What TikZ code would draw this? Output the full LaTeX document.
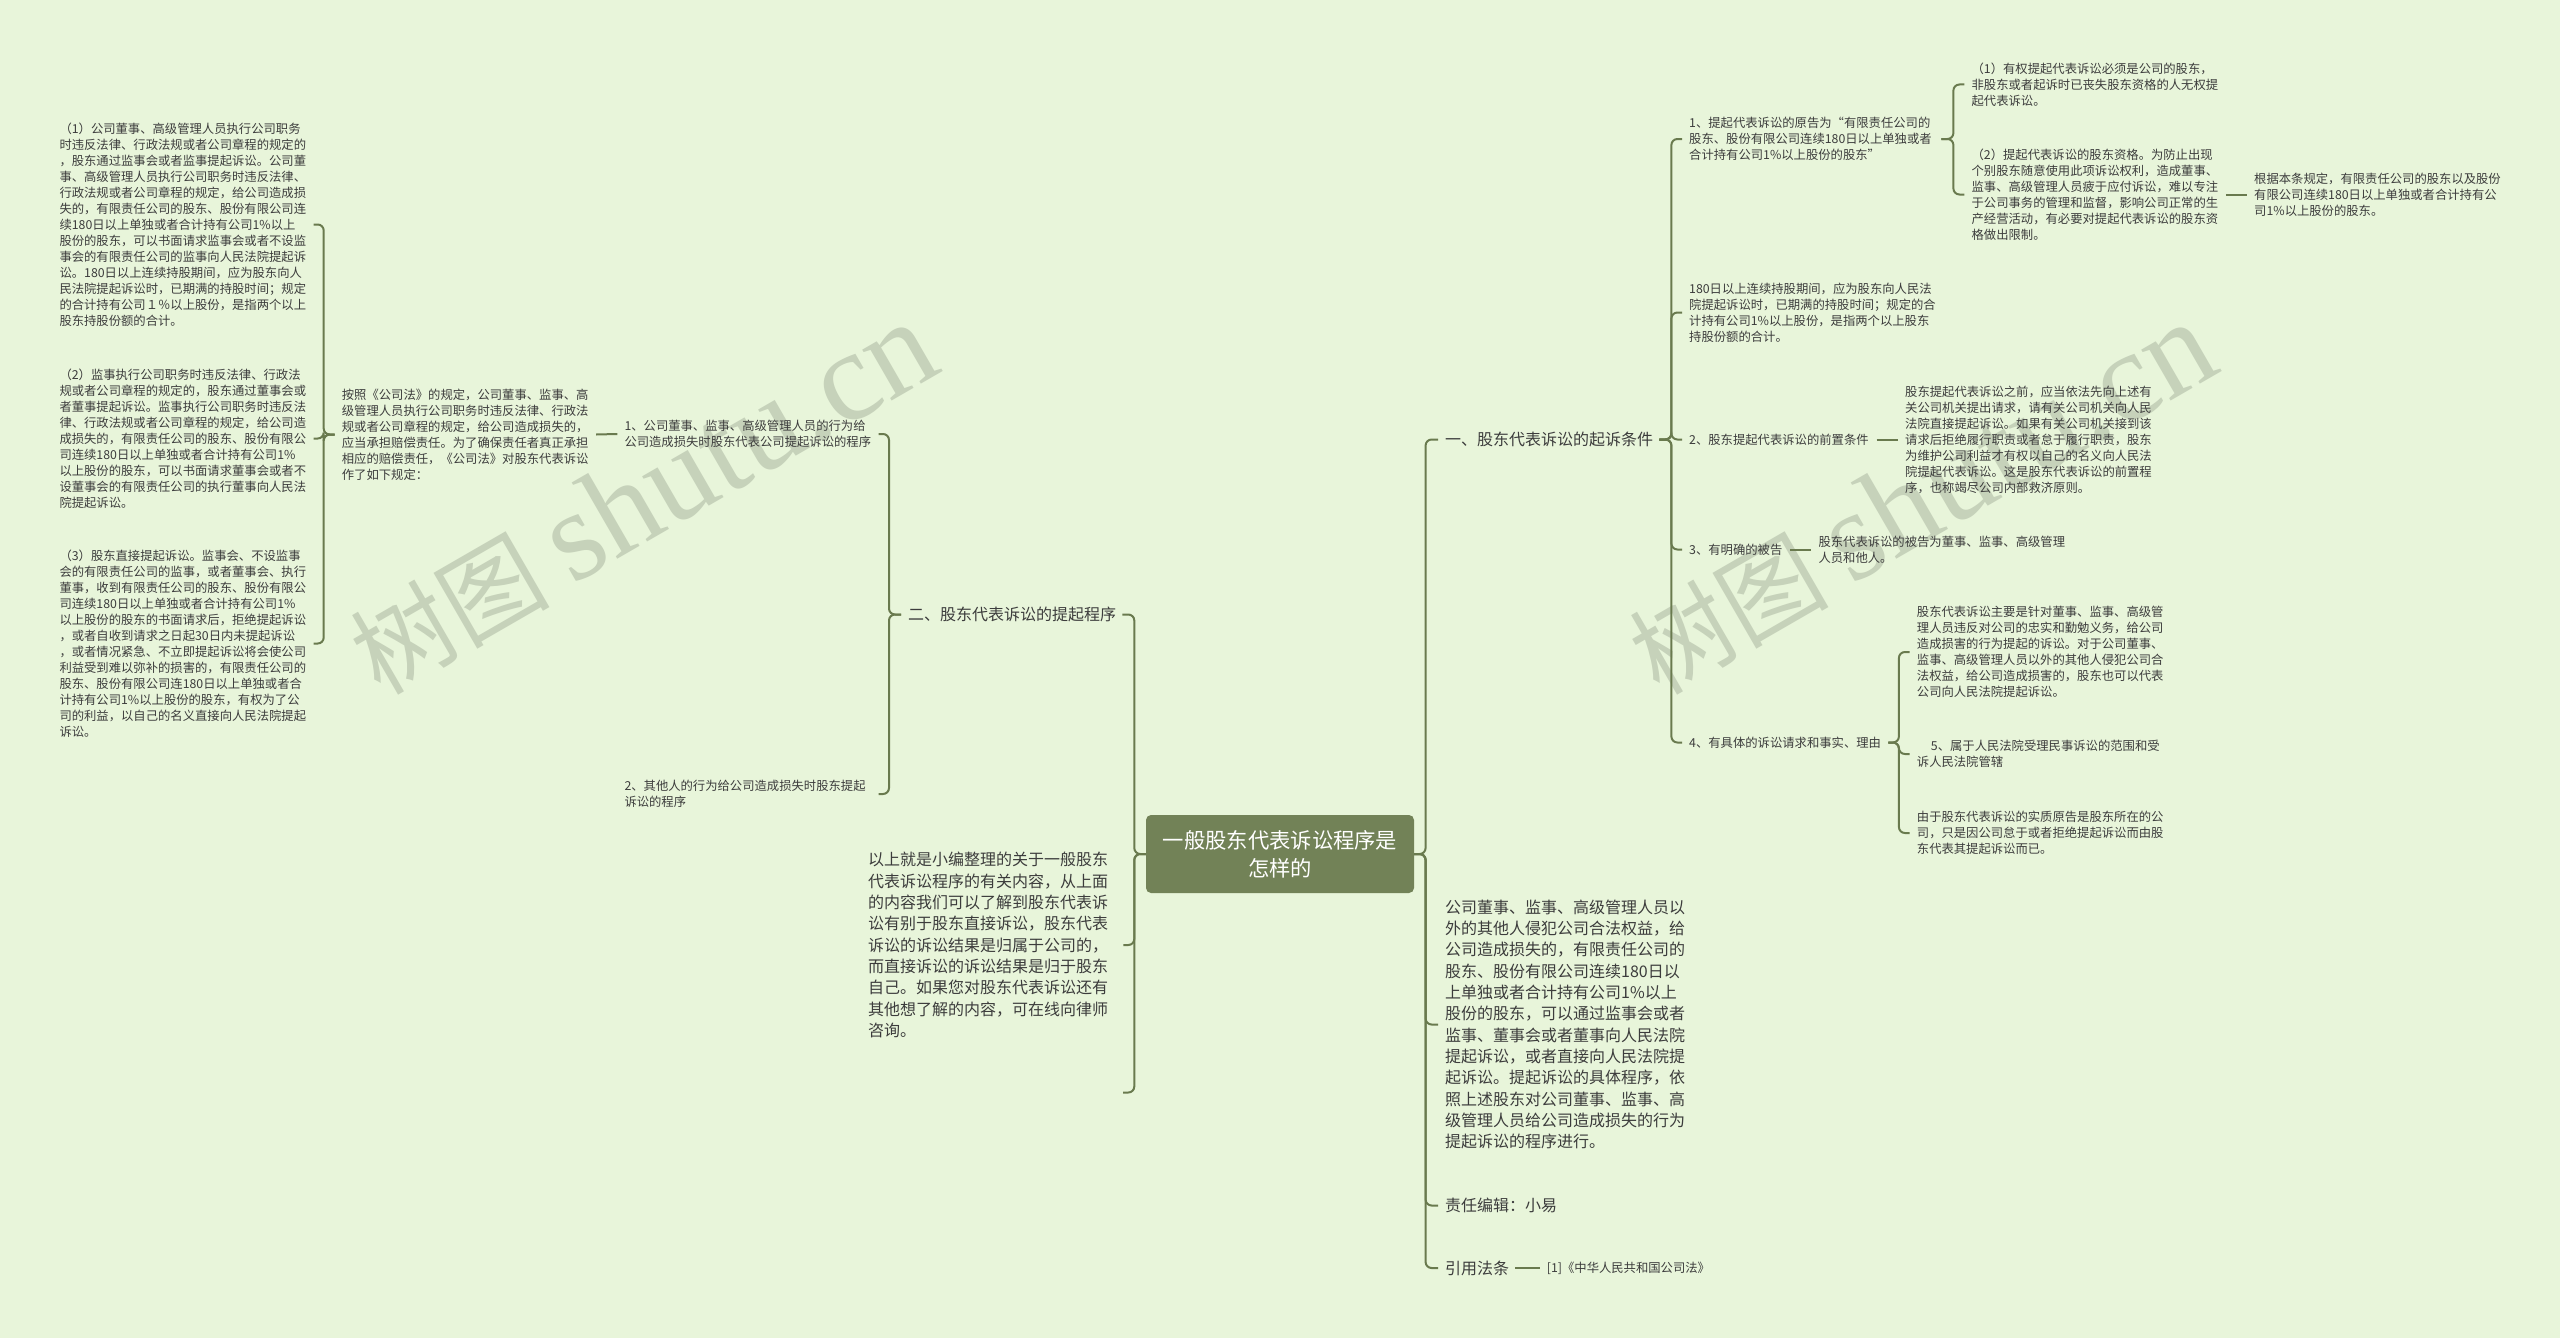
\documentclass[tikz,border=0pt]{standalone}
\usepackage{fontspec}
\setmainfont{Noto Sans CJK SC}
\newfontfamily\markfont{Liberation Serif}
\definecolor{pagebg}{HTML}{E8F5DA}
\definecolor{rootfill}{HTML}{728257}
\definecolor{linkcol}{HTML}{697A4E}
\definecolor{inkcol}{HTML}{3C3C3C}
\definecolor{markcol}{HTML}{C6D2BA}
\tikzset{
  basetxt/.style={anchor=west, align=left, inner xsep=7pt, inner ysep=0pt, text=inkcol},
  small/.style={basetxt, font=\fontsize{12.33}{16}\selectfont, text width=#1},
  small/.default=247pt,
  large/.style={basetxt, font=\fontsize{16}{21.33}\selectfont, text width=#1},
  large/.default=238pt,
  rootbox/.style={fill=rootfill, rounded corners=5pt, minimum width=268pt, minimum height=78pt,
    align=center, text=white, font=\fontsize{21.33}{28}\selectfont},
  link/.style={draw=linkcol, line width=2pt, rounded corners=6pt},
  wmark/.style={text=markcol, rotate=30, anchor=base, inner sep=0pt, font=\fontsize{100}{100}\selectfont}
}
\begin{document}
\begin{tikzpicture}[x=1pt,y=-1pt]
  \useasboundingbox (0,0) rectangle (2560,1338);
  \fill[pagebg] (0,0) rectangle (2560,1338);
  % Watermarks
  \begin{scope}
    \clip (0,0) rectangle (2560,1338);
    \foreach \mx/\my in {0/0,1279/0,0/1013,1279/1013} {
      \node[wmark] at (662.5+\mx,533.5+\my) {树图\hspace{22pt}{\markfont\fontsize{128}{128}\selectfont shutu.cn}};
    }
  \end{scope}
  % Root
  \node[rootbox] (root) at (1280,854) {一般股东代表诉讼程序是\\怎样的};
  % Left branch
  \node[large=207pt] (sectwo) at (901,614.5) {二、股东代表诉讼的提起程序};
  \node[large=248pt] (closing) at (861,945) {以上就是小编整理的关于一般股东\\
    代表诉讼程序的有关内容，从上面\\
    的内容我们可以了解到股东代表诉\\
    讼有别于股东直接诉讼，股东代表\\
    诉讼的诉讼结果是归属于公司的，\\
    而直接诉讼的诉讼结果是归于股东\\
    自己。如果您对股东代表诉讼还有\\
    其他想了解的内容，可在线向律师\\
    咨询。};
  \coordinate (blank) at (1123,1092.5);
  \node[small] (proca) at (617.3,434) {1、公司董事、监事、高级管理人员的行为给\\
    公司造成损失时股东代表公司提起诉讼的程序};
  \node[small] (procb) at (617.3,794) {2、其他人的行为给公司造成损失时股东提起\\
    诉讼的程序};
  \node[small] (rule) at (334.7,434.5) {按照《公司法》的规定，公司董事、监事、高\\
    级管理人员执行公司职务时违反法律、行政法\\
    规或者公司章程的规定，给公司造成损失的，\\
    应当承担赔偿责任。为了确保责任者真正承担\\
    相应的赔偿责任，《公司法》对股东代表诉讼\\
    作了如下规定：};
  \node[small] (rulea) at (52.3,224.5) {（1）公司董事、高级管理人员执行公司职务\\
    时违反法律、行政法规或者公司章程的规定的\\
    ，股东通过监事会或者监事提起诉讼。公司董\\
    事、高级管理人员执行公司职务时违反法律、\\
    行政法规或者公司章程的规定，给公司造成损\\
    失的，有限责任公司的股东、股份有限公司连\\
    续180日以上单独或者合计持有公司1\%以上\\
    股份的股东，可以书面请求监事会或者不设监\\
    事会的有限责任公司的监事向人民法院提起诉\\
    讼。180日以上连续持股期间，应为股东向人\\
    民法院提起诉讼时，已期满的持股时间；规定\\
    的合计持有公司１％以上股份，是指两个以上\\
    股东持股份额的合计。};
  \node[small] (ruleb) at (52.3,438.5) {（2）监事执行公司职务时违反法律、行政法\\
    规或者公司章程的规定的，股东通过董事会或\\
    者董事提起诉讼。监事执行公司职务时违反法\\
    律、行政法规或者公司章程的规定，给公司造\\
    成损失的，有限责任公司的股东、股份有限公\\
    司连续180日以上单独或者合计持有公司1\%\\
    以上股份的股东，可以书面请求董事会或者不\\
    设董事会的有限责任公司的执行董事向人民法\\
    院提起诉讼。};
  \node[small] (rulec) at (52.3,643.5) {（3）股东直接提起诉讼。监事会、不设监事\\
    会的有限责任公司的监事，或者董事会、执行\\
    董事，收到有限责任公司的股东、股份有限公\\
    司连续180日以上单独或者合计持有公司1\%\\
    以上股份的股东的书面请求后，拒绝提起诉讼\\
    ，或者自收到请求之日起30日内未提起诉讼\\
    ，或者情况紧急、不立即提起诉讼将会使公司\\
    利益受到难以弥补的损害的，有限责任公司的\\
    股东、股份有限公司连180日以上单独或者合\\
    计持有公司1\%以上股份的股东，有权为了公\\
    司的利益，以自己的名义直接向人民法院提起\\
    诉讼。};
  % Right branch
  \node[large=207pt] (secone) at (1438,439.5) {一、股东代表诉讼的起诉条件};
  \node[large] (others) at (1438,1024.5) {公司董事、监事、高级管理人员以\\
    外的其他人侵犯公司合法权益，给\\
    公司造成损失的，有限责任公司的\\
    股东、股份有限公司连续180日以\\
    上单独或者合计持有公司1\%以上\\
    股份的股东，可以通过监事会或者\\
    监事、董事会或者董事向人民法院\\
    提起诉讼，或者直接向人民法院提\\
    起诉讼。提起诉讼的具体程序，依\\
    照上述股东对公司董事、监事、高\\
    级管理人员给公司造成损失的行为\\
    提起诉讼的程序进行。};
  \node[large=120pt] (editor) at (1438,1205.5) {责任编辑：小易};
  \node[large=63pt] (cite) at (1438,1268) {引用法条};
  \node[small=165pt] (citelaw) at (1539.7,1268) {[1]《中华人民共和国公司法》};
  % Conditions
  \node[small=245pt] (conda) at (1682,139) {1、提起代表诉讼的原告为“有限责任公司的\\
    股东、股份有限公司连续180日以上单独或者\\
    合计持有公司1\%以上股份的股东”};
  \node[small] (condaa) at (1964.4,84.5) {（1）有权提起代表诉讼必须是公司的股东，\\
    非股东或者起诉时已丧失股东资格的人无权提\\
    起代表诉讼。};
  \node[small] (condab) at (1964.4,194.5) {（2）提起代表诉讼的股东资格。为防止出现\\
    个别股东随意使用此项诉讼权利，造成董事、\\
    监事、高级管理人员疲于应付诉讼，难以专注\\
    于公司事务的管理和监督，影响公司正常的生\\
    产经营活动，有必要对提起代表诉讼的股东资\\
    格做出限制。};
  \node[small] (condac) at (2247,194.5) {根据本条规定，有限责任公司的股东以及股份\\
    有限公司连续180日以上单独或者合计持有公\\
    司1\%以上股份的股东。};
  \node[small] (condb) at (1682,312.5) {180日以上连续持股期间，应为股东向人民法\\
    院提起诉讼时，已期满的持股时间；规定的合\\
    计持有公司1\%以上股份，是指两个以上股东\\
    持股份额的合计。};
  \node[small=180.3pt] (condc) at (1682,439.5) {2、股东提起代表诉讼的前置条件};
  \node[small] (condca) at (1898,439.5) {股东提起代表诉讼之前，应当依法先向上述有\\
    关公司机关提出请求，请有关公司机关向人民\\
    法院直接提起诉讼。如果有关公司机关接到该\\
    请求后拒绝履行职责或者怠于履行职责，股东\\
    为维护公司利益才有权以自己的名义向人民法\\
    院提起代表诉讼。这是股东代表诉讼的前置程\\
    序，也称竭尽公司内部救济原则。};
  \node[small=93.7pt] (condd) at (1682,549.5) {3、有明确的被告};
  \node[small] (condda) at (1811.3,549.5) {股东代表诉讼的被告为董事、监事、高级管理\\
    人员和他人。};
  \node[small=192pt] (conde) at (1682,742.5) {4、有具体的诉讼请求和事实、理由};
  \node[small] (condea) at (1909.7,652) {股东代表诉讼主要是针对董事、监事、高级管\\
    理人员违反对公司的忠实和勤勉义务，给公司\\
    造成损害的行为提起的诉讼。对于公司董事、\\
    监事、高级管理人员以外的其他人侵犯公司合\\
    法权益，给公司造成损害的，股东也可以代表\\
    公司向人民法院提起诉讼。};
  \node[small] (condeb) at (1909.7,754) {\hspace*{14pt}5、属于人民法院受理民事诉讼的范围和受\\
    诉人民法院管辖};
  \node[small] (condec) at (1909.7,833) {由于股东代表诉讼的实质原告是股东所在的公\\
    司，只是因公司怠于或者拒绝提起诉讼而由股\\
    东代表其提起诉讼而已。};
  % Links to the left
  \foreach \kid in {sectwo.east,closing.east,blank}
    \draw[link] (root.west) -- ++(-11.5,0) |- (\kid);
  \foreach \kid in {proca,procb}
    \draw[link] (sectwo.west) -- ++(-12,0) |- (\kid.east);
  \foreach \kid in {rulea,ruleb,rulec}
    \draw[link] (rule.west) -- ++(-11,0) |- (\kid.east);
  \draw[link] (proca.west) -- (rule.east);
  % Links to the right
  \foreach \kid in {secone,others,editor,cite}
    \draw[link] (root.east) -- ++(11.4,0) |- (\kid.west);
  \foreach \kid in {conda,condb,condc,condd,conde}
    \draw[link] (secone.east) -- ++(12,0) |- (\kid.west);
  \foreach \kid in {condaa,condab}
    \draw[link] (conda.east) -- ++(12,0) |- (\kid.west);
  \foreach \kid in {condea,condeb,condec}
    \draw[link] (conde.east) -- ++(10.5,0) |- (\kid.west);
  \draw[link] (condab.east) -- (condac.west);
  \draw[link] (condc.east) -- (condca.west);
  \draw[link] (condd.east) -- (condda.west);
  \draw[link] (cite.east) -- (citelaw.west);
\end{tikzpicture}
\end{document}
